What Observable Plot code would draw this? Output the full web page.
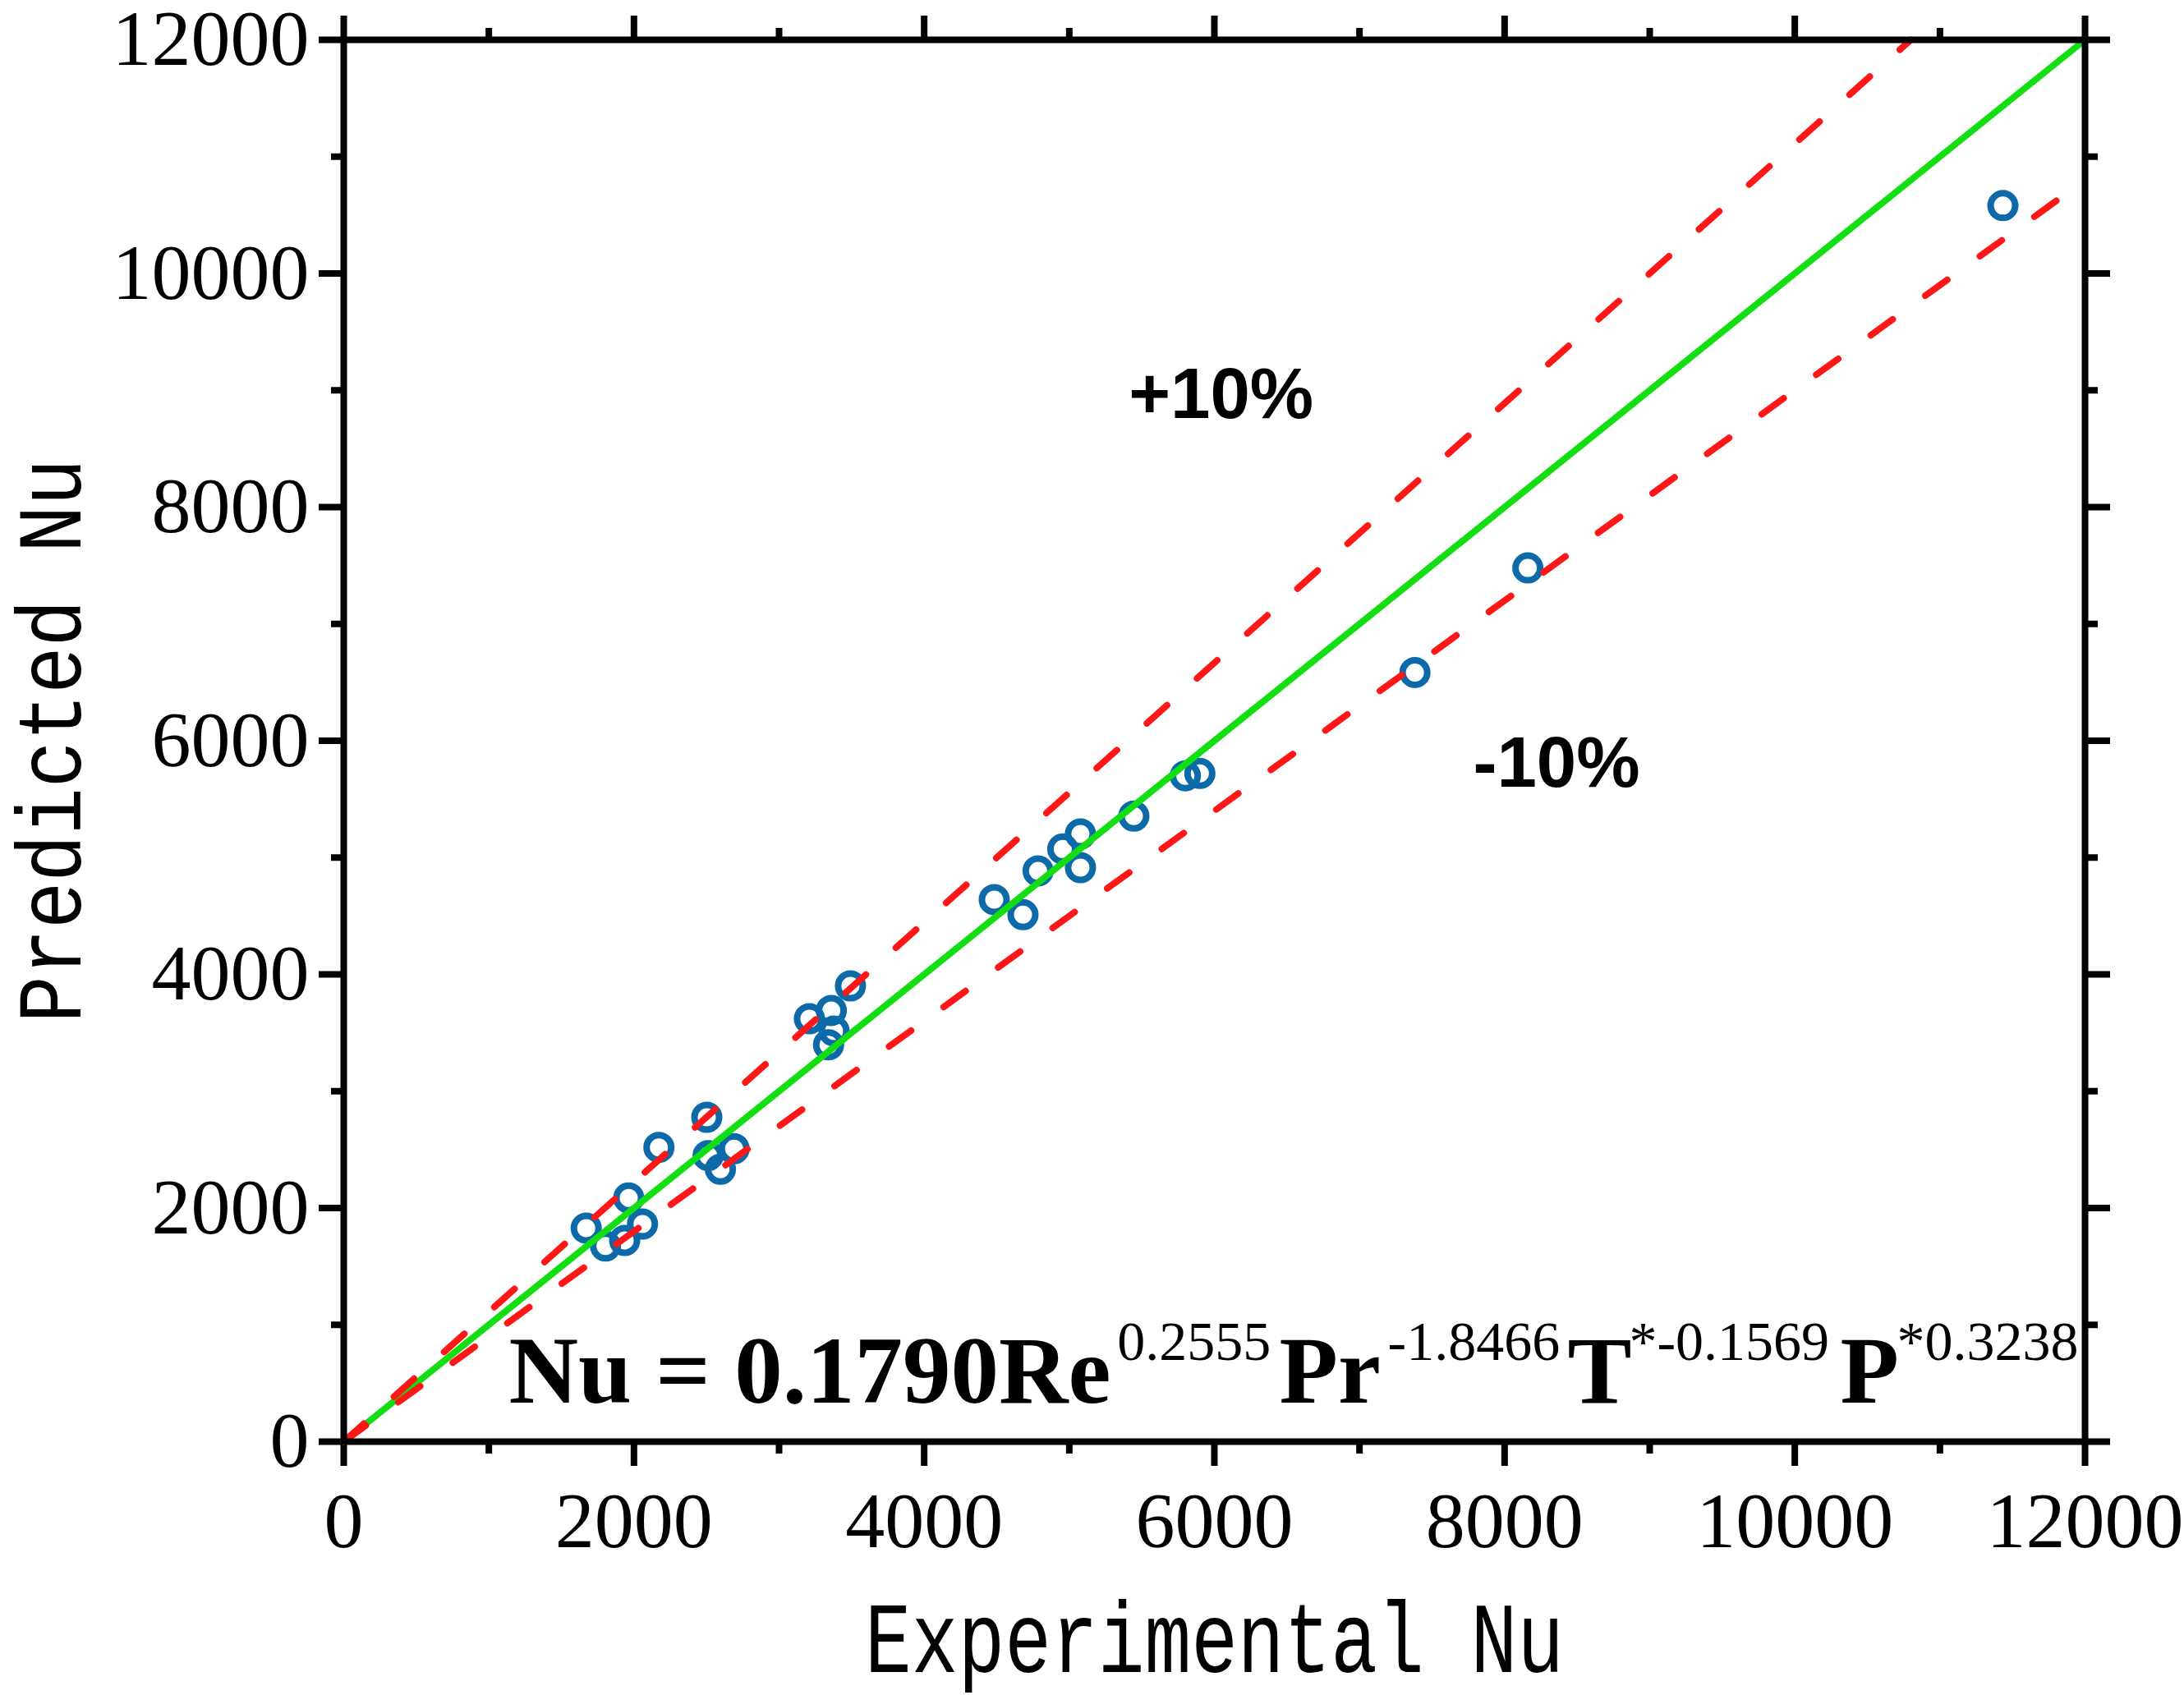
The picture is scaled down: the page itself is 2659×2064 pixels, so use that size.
<!DOCTYPE html>
<html>
<head>
<meta charset="utf-8">
<script src="https://cdn.jsdelivr.net/npm/d3@7"></script>
<script src="https://cdn.jsdelivr.net/npm/@observablehq/plot@0.6"></script>
<style>
  html, body { margin: 0; padding: 0; background: #fff; }
  svg { display: block; }
</style>
</head>
<body>
<div id="chart"></div>
<script>
// Experimental vs. predicted Nusselt number
const experimental = [1671, 1804, 1936, 1964, 2059, 2172, 2502, 2511, 2596, 2690,
  3209, 3341, 3360, 3379, 3492, 4483, 4681, 4785, 4955, 5077, 5077, 5445,
  5800, 5900, 7382, 8160, 11434];
const predicted = [1828, 1675, 1722, 2086, 1863, 2519, 2777, 2449, 2332, 2508,
  3620, 3397, 3691, 3515, 3902, 4640, 4511, 4886, 5073, 5202, 4914, 5355,
  5700, 5720, 6584, 7479, 10581];

// Reference lines: perfect agreement and the ±10% band
const parityX = [0, 12000], parityY = [0, 12000];
const upperX = [0, 10800], upperY = [0, 12000];
const lowerX = [0, 12000], lowerY = [0, 10800];

const majorTicks = [0, 2000, 4000, 6000, 8000, 10000, 12000];
const minorTicks = [1000, 3000, 5000, 7000, 9000, 11000];

const bandLabels = [
  {x: 5410, y: 8760, text: "+10%"},
  {x: 7783, y: 5603, text: "-10%"}
];

// Correlation: Nu = 0.1790 Re^0.2555 Pr^-1.8466 T*^-0.1569 P*^0.3238
// pieces: [text, superscript?, x start in Nu units]
const formulaParts = [
  ["Nu = 0.1790Re", false, 1138],
  ["0.2555", true, 5330],
  ["Pr", false, 6447],
  ["-1.8466", true, 7195],
  ["T", false, 8434],
  ["*-0.1569", true, 8858],
  ["P", false, 10313],
  ["*0.3238", true, 10704]
];
const formulaBaseline = 337;   // Nu units on the y axis
const superBaseline = 700;

const points = experimental.map((x, i) => ({x, y: predicted[i]}));

const axisStyle = {stroke: "black", strokeWidth: 8};

const plot = Plot.plot({
  width: 2659,
  height: 2064,
  marginLeft: 418,
  marginRight: 121,
  marginTop: 48,
  marginBottom: 309,
  style: {fontFamily: "'Liberation Serif', serif", fontSize: "96px", background: "white", color: "black"},
  x: {domain: [0, 12000]},
  y: {domain: [0, 12000]},
  marks: [
    // bottom / left labelled axes
    Plot.axisX({anchor: "bottom", ticks: majorTicks, tickSize: 30, tickPadding: 30, tickFormat: d => String(d),
      label: "Experimental Nu", labelAnchor: "center", labelOffset: 280, labelArrow: "none", ...axisStyle}),
    Plot.axisX({anchor: "bottom", ticks: minorTicks, tickSize: 15, tickFormat: () => "", label: null, ...axisStyle}),
    Plot.axisY({anchor: "left", ticks: majorTicks, tickSize: 30, tickPadding: 12, tickFormat: d => String(d),
      label: "Predicted Nu", labelAnchor: "center", labelOffset: 400, labelArrow: "none", ...axisStyle}),
    Plot.axisY({anchor: "left", ticks: minorTicks, tickSize: 15, tickFormat: () => "", label: null, ...axisStyle}),
    // mirrored ticks on top / right
    Plot.axisX({anchor: "top", ticks: majorTicks, tickSize: 30, tickFormat: () => "", label: null, ...axisStyle}),
    Plot.axisX({anchor: "top", ticks: minorTicks, tickSize: 15, tickFormat: () => "", label: null, ...axisStyle}),
    Plot.axisY({anchor: "right", ticks: majorTicks, tickSize: 30, tickFormat: () => "", label: null, ...axisStyle}),
    Plot.axisY({anchor: "right", ticks: minorTicks, tickSize: 15, tickFormat: () => "", label: null, ...axisStyle}),

    Plot.dot(points, {x: "x", y: "y", r: 15, stroke: "#0c6aa8", strokeWidth: 8, fill: "none"}),
    Plot.line(parityX, {x: parityX, y: parityY, stroke: "#12de12", strokeWidth: 8}),
    Plot.line(upperX, {x: upperX, y: upperY, stroke: "#ff1616", strokeWidth: 8,
      strokeDasharray: "33,49", strokeLinecap: "round"}),
    Plot.line(lowerX, {x: lowerX, y: lowerY, stroke: "#ff1616", strokeWidth: 8,
      strokeDasharray: "33,49", strokeLinecap: "round"}),

    Plot.text(bandLabels, {x: "x", y: "y", text: "text", textAnchor: "start", lineAnchor: "bottom",
      fontFamily: "'Liberation Sans', Arial, sans-serif", fontWeight: "bold", fontSize: 87, fill: "black"}),

    // correlation formula: main symbols and raised exponents
    Plot.text(formulaParts.filter(d => !d[1]), {x: d => d[2], y: formulaBaseline, text: d => d[0],
      textAnchor: "start", lineAnchor: "bottom", fontFamily: "'Liberation Serif', 'Times New Roman', serif",
      fontWeight: "bold", fontSize: 117, fill: "black"}),
    Plot.text(formulaParts.filter(d => d[1]), {x: d => d[2], y: superBaseline, text: d => d[0],
      textAnchor: "start", lineAnchor: "bottom", fontFamily: "'Liberation Serif', 'Times New Roman', serif",
      fontSize: 68, fill: "black"}),

    Plot.frame({stroke: "black", strokeWidth: 8})
  ]
});

document.getElementById("chart").appendChild(plot);

// Axis titles in a slab-serif monospace face, condensed to fit
const svg = d3.select(plot);
svg.selectAll('[aria-label="x-axis label"] text')
  .attr("font-family", "'Liberation Mono', monospace")
  .attr("font-size", 122)
  .attr("textLength", 851)
  .attr("lengthAdjust", "spacingAndGlyphs");
svg.selectAll('[aria-label="y-axis label"] text')
  .attr("font-family", "'Liberation Mono', monospace")
  .attr("font-size", 112)
  .attr("textLength", 687)
  .attr("lengthAdjust", "spacingAndGlyphs");
</script>
</body>
</html>
